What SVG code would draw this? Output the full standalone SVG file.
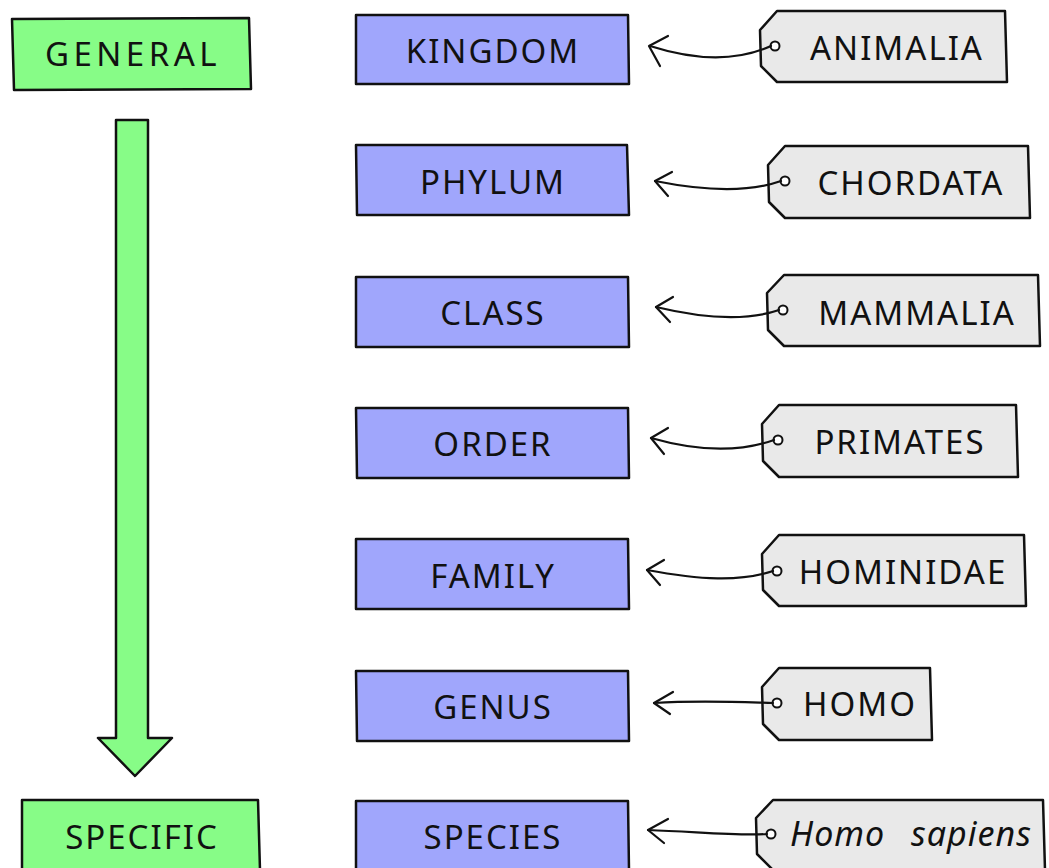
<svg xmlns="http://www.w3.org/2000/svg" width="1049" height="868" viewBox="0 0 1049 868">
<style>
.g{fill:#87fc87;stroke:#111;stroke-width:2.5;stroke-linejoin:round}
.b{fill:#a0a6fc;stroke:#111;stroke-width:2.5;stroke-linejoin:round}
.t{fill:#e9e9e9;stroke:#111;stroke-width:2.5;stroke-linejoin:round}
.c{fill:none;stroke:#111;stroke-width:2.2;stroke-linecap:round;stroke-linejoin:round}
.h{fill:#fff;stroke:#111;stroke-width:2}
text{font-family:"Noto Sans","DejaVu Sans",sans-serif;font-size:33px;fill:#111;letter-spacing:2px;text-anchor:middle;dominant-baseline:central}
.w{letter-spacing:4.5px}
.i{font-style:italic;letter-spacing:1px;word-spacing:16px;font-size:34px}
</style>
<rect width="1049" height="868" fill="#fff"/>
<g id="general"><path class="g" d="M12 19 L249 18 L251 89 L14 90 Z"/><text class="w" x="133" y="53">GENERAL</text></g>
<g id="direction-arrow"><path class="g" d="M116 120 L148 120 L148 738 L172 738 L135 776 L98 738 L116 738 Z"/></g>
<g id="specific"><path class="g" d="M22 800 L258 800 L260 870 L22 870 Z"/><text x="142" y="836">SPECIFIC</text></g>

<g id="kingdom"><path class="b" d="M356 15 L628 15 L629 84 L356 84 Z"/><text x="493" y="50">KINGDOM</text></g>
<g id="phylum"><path class="b" d="M356 145 L627 145 L629 215 L357 215 Z"/><text x="493" y="181">PHYLUM</text></g>
<g id="class"><path class="b" d="M356 277 L628 277 L629 347 L356 347 Z"/><text x="493" y="312">CLASS</text></g>
<g id="order"><path class="b" d="M356 408 L628 408 L629 478 L357 478 Z"/><text x="493" y="443">ORDER</text></g>
<g id="family"><path class="b" d="M356 539 L628 539 L629 609 L356 609 Z"/><text x="493" y="575">FAMILY</text></g>
<g id="genus"><path class="b" d="M356 671 L628 671 L629 741 L357 741 Z"/><text x="493" y="706">GENUS</text></g>
<g id="species"><path class="b" d="M356 801 L628 801 L629 870 L356 870 Z"/><text x="493" y="836">SPECIES</text></g>

<g id="animalia"><path class="t" d="M777 11 L1005 11 L1007 82 L777 82 L761 66 L760 30 Z"/><circle class="h" cx="775" cy="46" r="4.5"/><text x="897" y="47">ANIMALIA</text></g>
<g id="chordata"><path class="t" d="M785 146 L1028 146 L1030 218 L785 218 L769 202 L768 165 Z"/><circle class="h" cx="785" cy="181" r="4.5"/><text x="911" y="182">CHORDATA</text></g>
<g id="mammalia"><path class="t" d="M784 275 L1038 275 L1040 346 L784 346 L768 330 L767 293 Z"/><circle class="h" cx="783" cy="310" r="4.5"/><text x="917" y="312">MAMMALIA</text></g>
<g id="primates"><path class="t" d="M779 405 L1016 405 L1018 477 L779 477 L763 461 L762 424 Z"/><circle class="h" cx="778" cy="440" r="4.5"/><text x="900" y="441">PRIMATES</text></g>
<g id="hominidae"><path class="t" d="M779 535 L1024 535 L1026 606 L779 606 L763 590 L762 554 Z"/><circle class="h" cx="777" cy="571" r="4.5"/><text x="903" y="571">HOMINIDAE</text></g>
<g id="homo"><path class="t" d="M779 668 L930 668 L932 740 L779 740 L763 724 L762 687 Z"/><circle class="h" cx="777" cy="703" r="4.5"/><text x="860" y="703">HOMO</text></g>
<g id="homo-sapiens"><path class="t" d="M773 800 L1043 800 L1045 870 L773 870 L757 854 L756 818 Z"/><circle class="h" cx="771" cy="834" r="4.5"/><text class="i" x="911" y="833">Homo sapiens</text></g>

<g id="connectors">
<path class="c" d="M771 46 C740 60 700 62 650 46"/><path class="c" d="M668 36 L649 46 L660 66"/>
<path class="c" d="M781 181 C750 192 710 192 655 181"/><path class="c" d="M672 172 L655 181 L668 196"/>
<path class="c" d="M779 310 C750 320 710 320 656 307"/><path class="c" d="M673 297 L656 307 L670 322"/>
<path class="c" d="M774 440 C740 452 700 452 651 438"/><path class="c" d="M668 428 L651 438 L664 454"/>
<path class="c" d="M773 571 C740 582 700 580 647 570"/><path class="c" d="M664 560 L647 570 L660 585"/>
<path class="c" d="M773 703 C740 702 700 700 654 703"/><path class="c" d="M673 692 L654 703 L670 714"/>
<path class="c" d="M767 834 C740 836 700 832 648 830"/><path class="c" d="M668 819 L648 830 L664 843"/>
</g>
</svg>
